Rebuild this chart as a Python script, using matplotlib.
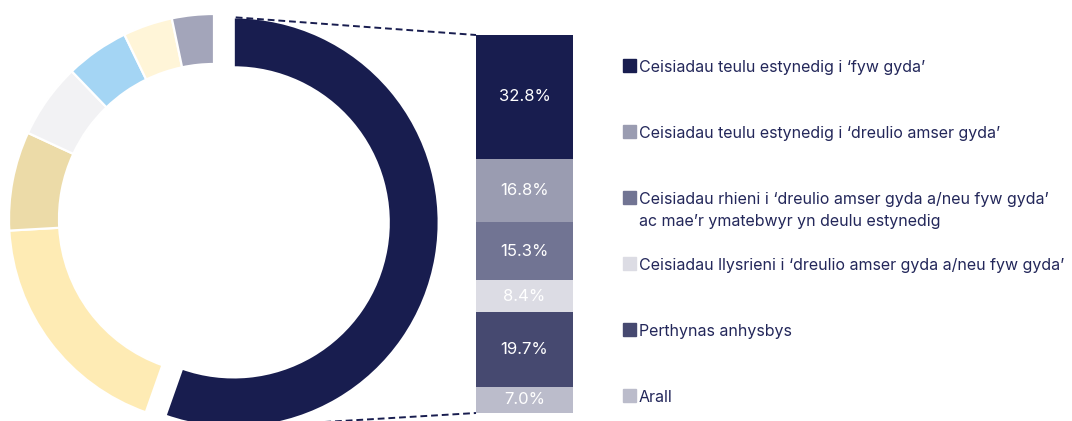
import numpy as np
import matplotlib.pyplot as plt
from matplotlib.patches import Rectangle

plt.rcParams['font.family'] = ['Inter', 'DejaVu Sans']

# donut shares (first, navy slice is broken down in the bar)
donut_values = [55.4, 18.7, 7.8, 5.9, 5.0, 3.9, 3.3]
donut_colors = ['#181d4f', '#feebb4', '#ecdba8', '#f2f2f4', '#a4d5f4', '#fff5d8', '#a3a5ba']

# breakdown of the navy slice
bar_labels = [
    "Ceisiadau teulu estynedig i \u2018fyw gyda\u2019",
    "Ceisiadau teulu estynedig i \u2018dreulio amser gyda\u2019",
    "Ceisiadau rhieni i \u2018dreulio amser gyda a/neu fyw gyda\u2019\nac mae\u2019r ymatebwyr yn deulu estynedig",
    "Ceisiadau llysrieni i \u2018dreulio amser gyda a/neu fyw gyda\u2019",
    "Perthynas anhysbys",
    "Arall",
]
bar_values = [32.8, 16.8, 15.3, 8.4, 19.7, 7.0]
bar_colors = ['#181d4f', '#9a9cb1', '#717493', '#dcdce4', '#464970', '#bbbccb']

text_col = '#23275a'
W, H = 1072, 421

fig = plt.figure(figsize=(W / 100, H / 100), dpi=100)
ax = fig.add_axes([0, 0, 1, 1])

# explode is in data units here (pixels)
wedges, _ = ax.pie(donut_values, colors=donut_colors, startangle=90, counterclock=False,
                   radius=205, center=(214, 202), explode=[20, 0, 0, 0, 0, 0, 0],
                   wedgeprops=dict(width=50, edgecolor='white', linewidth=1.6))

# stacked bar, drawn top-down
bar_x, bar_w = 524.5, 97
bar_top, bar_h = 386, 378
scale = bar_h / sum(bar_values)
bottom = bar_top
for v, c in zip(bar_values, bar_colors):
    bottom -= v * scale
    ax.bar(bar_x, v * scale, bar_w, bottom=bottom, color=c)
    ax.text(bar_x, bottom + v * scale / 2, f'{v:.1f}%', color='white',
            ha='center', va='center', fontsize=12)

# dashed connectors from the navy slice to the bar
cx, cy = wedges[0].center
r = wedges[0].r
left = bar_x - bar_w / 2
ax.plot([cx + 2, left], [cy + r, bar_top], ls=(0, (3.5, 2)), color='#181d4f', lw=1.4)
ax.plot([cx, left], [cy - r, bar_top - bar_h], ls=(0, (3.5, 2)), color='#181d4f', lw=1.4)

# legend, first line of each label on its baseline
for i, (lab, c) in enumerate(zip(bar_labels, bar_colors)):
    base = H - (71.7 + i * 66.1)
    ax.add_patch(Rectangle((623, base), 13, 13, color=c))
    for j, line in enumerate(lab.split('\n')):
        ax.text(639, base - j * 22, line, color=text_col, fontsize=11.5,
                va='baseline', ha='left')

ax.set_xlim(0, W)
ax.set_ylim(0, H)
ax.set_aspect('equal')
ax.axis('off')

plt.savefig('out.png', dpi=100)
